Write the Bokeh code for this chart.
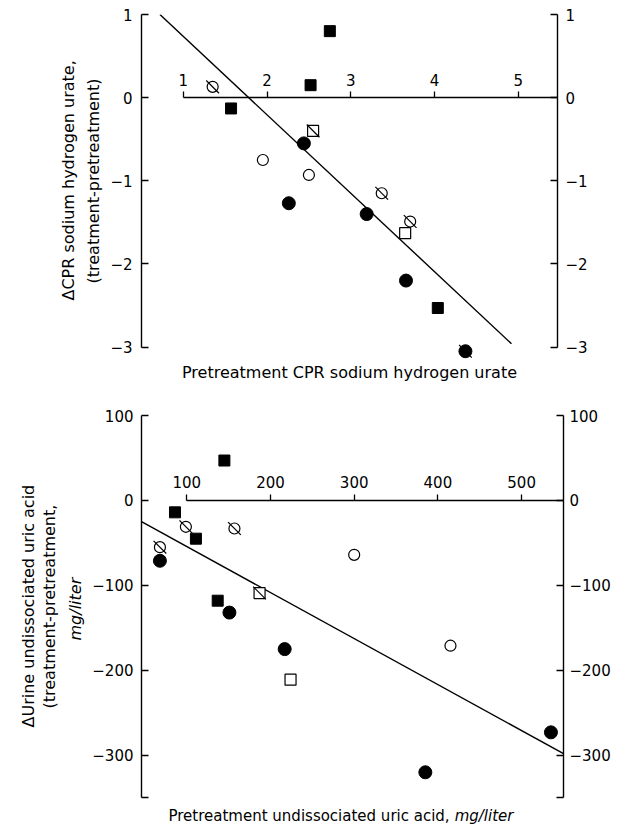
import math
from bokeh.plotting import figure
from bokeh.models import Range1d, LinearAxis, FixedTicker, Label, Title
from bokeh.layouts import column
from bokeh.embed import file_html
from bokeh.resources import INLINE

FONT = "DejaVu Sans"

# ---------------- Top chart data ----------------
top_x_ticks = [1, 2, 3, 4, 5]
top_x_labels = ["1", "2", "3", "4", "5"]
top_y_ticks = [1, 0, -1, -2, -3]
top_y_labels = ["1", "0", "\u22121", "\u22122", "\u22123"]

top_fc_x = [2.44, 2.26, 3.19, 3.66, 4.37]
top_fc_y = [-0.55, -1.27, -1.40, -2.20, -3.05]
top_fc_slash_x = [4.37]
top_fc_slash_y = [-3.05]
top_oc_x = [1.95, 2.50]
top_oc_y = [-0.75, -0.93]
top_sc_x = [1.35, 3.37, 3.71]
top_sc_y = [0.13, -1.15, -1.49]
top_fs_x = [2.75, 2.52, 1.57, 4.04]
top_fs_y = [0.80, 0.15, -0.13, -2.53]
top_os_x = [3.65]
top_os_y = [-1.63]
top_ss_x = [2.55]
top_ss_y = [-0.40]
top_fit_x = [0.72, 4.92]
top_fit_y = [1.00, -2.96]

# ---------------- Bottom chart data ----------------
bot_x_ticks = [100, 200, 300, 400, 500]
bot_x_labels = ["100", "200", "300", "400", "500"]
bot_y_ticks = [100, 0, -100, -200, -300, -350]
bot_y_labels = ["100", "0", "\u2212100", "\u2212200", "\u2212300", ""]

bot_fc_x = [68, 151, 217, 385, 535]
bot_fc_y = [-71, -132, -175, -320, -273]
bot_oc_x = [300, 415]
bot_oc_y = [-64, -171]
bot_sc_x = [68, 99, 157]
bot_sc_y = [-55, -31, -33]
bot_fs_x = [145, 86, 111, 137]
bot_fs_y = [47, -14, -45, -118]
bot_os_x = [224]
bot_os_y = [-211]
bot_ss_x = [187]
bot_ss_y = [-109]
bot_fit_x = [46, 550]
bot_fit_y = [-25, -298]

SLASH_ANGLE = -math.pi / 4


def style_axis(ax, ticks, labels, tick_in, tick_out, standoff):
    ax.ticker = FixedTicker(ticks=ticks)
    ax.major_label_overrides = {t: l for t, l in zip(ticks, labels)}
    ax.minor_tick_line_color = None
    ax.major_tick_in = tick_in
    ax.major_tick_out = tick_out
    ax.major_tick_line_width = 1.3
    ax.axis_line_width = 1.4
    ax.axis_line_color = "black"
    ax.major_tick_line_color = "black"
    ax.major_label_text_font = FONT
    ax.major_label_text_font_size = "15px"
    ax.major_label_text_color = "black"
    ax.major_label_standoff = standoff


def side_title(text, size, standoff, offset, italic=False):
    return Title(text=text, align="left", text_font=FONT, text_font_size=size,
                 text_font_style="italic" if italic else "normal", text_color="black",
                 standoff=standoff, offset=offset)


def draw_points(p, fc, oc, sc, fs, os_, ss, extra_slash=None):
    p.scatter(fc[0], fc[1], marker="circle", size=13, fill_color="black", line_color="black")
    p.scatter(oc[0], oc[1], marker="circle", size=11, fill_color="white", line_color="black", line_width=1.2)
    p.scatter(sc[0], sc[1], marker="circle", size=11, fill_color="white", line_color="black", line_width=1.2)
    p.scatter(sc[0], sc[1], marker="dash", size=18, angle=SLASH_ANGLE, line_color="black", line_width=1.2)
    p.scatter(fs[0], fs[1], marker="square", size=11, fill_color="black", line_color="black")
    p.scatter(os_[0], os_[1], marker="square", size=11, fill_color="white", line_color="black", line_width=1.2)
    p.scatter(ss[0], ss[1], marker="square", size=11, fill_color="white", line_color="black", line_width=1.2)
    p.scatter(ss[0], ss[1], marker="dash", size=18, angle=SLASH_ANGLE, line_color="black", line_width=1.2)
    if extra_slash is not None:
        p.scatter(extra_slash[0], extra_slash[1], marker="dash", size=18, angle=SLASH_ANGLE,
                  line_color="black", line_width=1.2)


# ---------------- Top figure ----------------
p1 = figure(frame_width=416, frame_height=370,
            x_range=Range1d(0.5, 5.47), y_range=Range1d(-3.45, 1.0),
            x_axis_location=None, y_axis_location=None,
            output_backend="svg", toolbar_location=None,
            min_border_left=141, min_border_right=63, min_border_top=14, min_border_bottom=9)
p1.outline_line_color = None
p1.grid.visible = False

l1 = LinearAxis(bounds=(-3, 1))
style_axis(l1, top_y_ticks, top_y_labels, 7, 0, 9)
p1.add_layout(l1, "left")
p1.add_layout(side_title("(treatment-pretreatment)", "16px", 9, 101), "left")
p1.add_layout(side_title("\u0394CPR sodium hydrogen urate,", "16px", 0, 84), "left")

r1 = LinearAxis(bounds=(-3, 1))
style_axis(r1, top_y_ticks, top_y_labels, 7, 0, 8)
p1.add_layout(r1, "right")

m1 = LinearAxis(bounds=(1, 5.47), fixed_location=0)
style_axis(m1, top_x_ticks, top_x_labels, 0, 6, 6)
p1.add_layout(m1, "above")

p1.line(top_fit_x, top_fit_y, line_color="black", line_width=1.4)
draw_points(p1, (top_fc_x, top_fc_y), (top_oc_x, top_oc_y), (top_sc_x, top_sc_y),
            (top_fs_x, top_fs_y), (top_os_x, top_os_y), (top_ss_x, top_ss_y),
            extra_slash=(top_fc_slash_x, top_fc_slash_y))

p1.add_layout(Label(x=(0.5 + 5.47) / 2, y=-3.31, text="Pretreatment CPR sodium hydrogen urate",
                    text_align="center", text_baseline="middle",
                    text_font=FONT, text_font_size="16px", text_color="black"))

# ---------------- Bottom figure ----------------
p2 = figure(frame_width=422, frame_height=412,
            x_range=Range1d(46, 550), y_range=Range1d(-385, 100),
            x_axis_location=None, y_axis_location=None,
            output_backend="svg", toolbar_location=None,
            min_border_left=140, min_border_right=58, min_border_top=22, min_border_bottom=0)
p2.outline_line_color = None
p2.grid.visible = False

l2 = LinearAxis(bounds=(-350, 100))
style_axis(l2, bot_y_ticks, bot_y_labels, 7, 0, 8)
p2.add_layout(l2, "left")
p2.add_layout(side_title("mg/liter", "16px", 10, 187, italic=True), "left")
p2.add_layout(side_title("(treatment-pretreatment,", "16px", 0, 119), "left")
p2.add_layout(side_title("\u0394Urine undissociated uric acid", "16px", 0, 100), "left")

r2 = LinearAxis(bounds=(-350, 100))
style_axis(r2, bot_y_ticks, bot_y_labels, 7, 0, 6)
p2.add_layout(r2, "right")

m2 = LinearAxis(bounds=(100, 550), fixed_location=0)
style_axis(m2, bot_x_ticks, bot_x_labels, 0, 6, 6)
p2.add_layout(m2, "above")

p2.line(bot_fit_x, bot_fit_y, line_color="black", line_width=1.4)
draw_points(p2, (bot_fc_x, bot_fc_y), (bot_oc_x, bot_oc_y), (bot_sc_x, bot_sc_y),
            (bot_fs_x, bot_fs_y), (bot_os_x, bot_os_y), (bot_ss_x, bot_ss_y))

p2.add_layout(Label(x=414, y=-371, text="Pretreatment undissociated uric acid,",
                    text_align="right", text_baseline="middle",
                    text_font=FONT, text_font_size="15px", text_color="black"))
p2.add_layout(Label(x=420, y=-371, text="mg/liter",
                    text_align="left", text_baseline="middle",
                    text_font=FONT, text_font_size="15px", text_font_style="italic",
                    text_color="black"))

layout = column(p1, p2)
open("out.html", "w").write(file_html(layout, INLINE))
